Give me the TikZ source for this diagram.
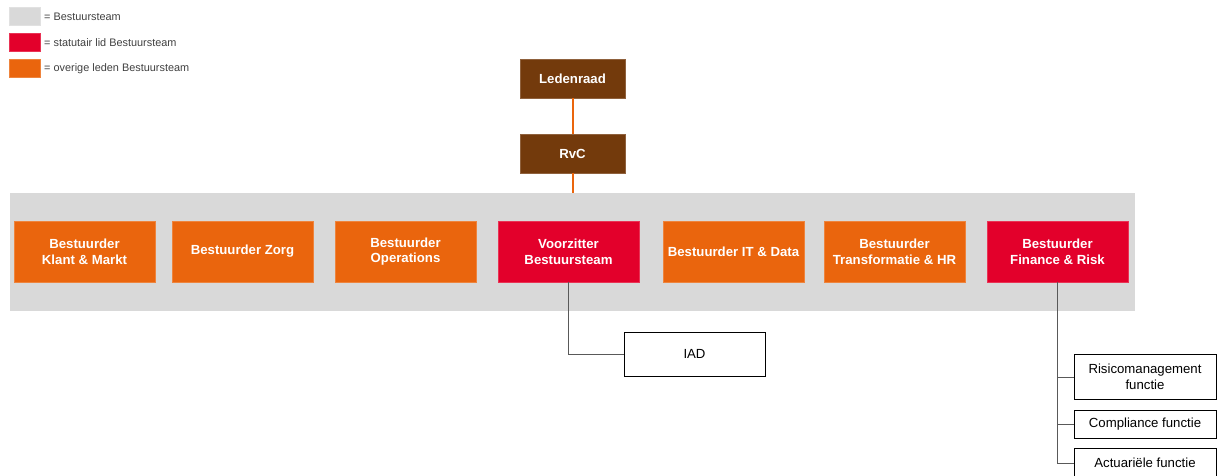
\documentclass[tikz,border=0pt]{standalone}
\usepackage{fontspec}
\setmainfont{Liberation Sans}
\definecolor{nnorange}{HTML}{EA650D}
\definecolor{nnred}{HTML}{E3002B}
\definecolor{nnbrown}{HTML}{733A0C}
\definecolor{nngray}{HTML}{D9D9D9}
\definecolor{nnline}{HTML}{595959}
\definecolor{nntext}{HTML}{404040}
\tikzset{
	teambox/.style={fill=#1, draw=#1!80!white, line width=0.5pt, text=white, minimum width=141pt, minimum height=61pt,
		inner sep=0pt, align=center, font=\fontsize{13.2}{15.8}\selectfont\bfseries},
	topbox/.style={teambox=nnbrown, minimum width=105pt, minimum height=39pt},
	funcbox/.style={draw=black, line width=0.9pt, fill=white, minimum width=142pt, inner sep=0pt, align=center,
		font=\fontsize{13.2}{15.8}\selectfont},
	legbox/.style={fill=#1, draw=#1!80!white, line width=0.5pt, minimum width=31pt, minimum height=18pt, inner sep=0pt},
	legtext/.style={anchor=west, inner sep=0pt, text=nntext, font=\fontsize{10.9}{12}\selectfont},
	link/.style={draw=nnline, line width=0.8pt}
}
\begin{document}
\begin{tikzpicture}[x=1pt, y=-1pt]
		\useasboundingbox (0,0) rectangle (1217,476);
		% legenda
		\node [legbox=nngray] (leg1) at (24.5,16) {};
		\node [legbox=nnred] (leg2) at (24.5,42) {};
		\node [legbox=nnorange] (leg3) at (24.5,68) {};
		\node [legtext] (legt1) at (44,16.5) {= Bestuursteam};
		\node [legtext] (legt2) at (44,42.5) {= statutair lid Bestuursteam};
		\node [legtext] (legt3) at (44,68.5) {= overige leden Bestuursteam};
		% bestuursteam
		\node [fill=nngray, minimum width=1125pt, minimum height=118pt, inner sep=0pt] (team) at (572.5,252) {};
		\node [topbox] (leden) at (572.5,78.5) {Ledenraad};
		\node [topbox] (rvc) at (572.5,153.5) {RvC};
		\draw [nnorange, line width=2pt] (leden) -- (rvc);
		\draw [nnorange, line width=2pt] (rvc) -- (rvc.south |- team.north);
		\node [teambox=nnorange] (klant) at (84.5,251.5) {Bestuurder\\Klant \& Markt};
		\node [teambox=nnorange] (zorg) at (242.5,251.5) {Bestuurder Zorg};
		\node [teambox=nnorange] (ops) at (405.5,251.5) {Bestuurder\\Operations};
		\node [teambox=nnred] (voorz) at (568.5,251.5) {Voorzitter\\Bestuursteam};
		\node [teambox=nnorange] (itdata) at (733.5,251.5) {Bestuurder IT \& Data};
		\node [teambox=nnorange] (trans) at (894.5,251.5) {Bestuurder\\Transformatie \& HR};
		\node [teambox=nnred] (fin) at (1057.5,251.5) {Bestuurder\\Finance \& Risk};
		% functies
		\node [funcbox, minimum width=141pt, minimum height=44pt] (iad) at (694.5,354) {IAD};
		\node [funcbox, minimum height=45pt] (risk) at (1145,377) {Risicomanagement\\functie};
		\node [funcbox, minimum height=28pt] (comp) at (1145,424) {Compliance functie};
		\node [funcbox, minimum height=30pt] (act) at (1145,463) {Actuariële functie};
		\draw [link] (voorz.south) |- (iad.west);
		\draw [link] (fin.south) -- (fin.south |- act.west) -- (act.west);
		\draw [link] (fin.south |- risk.west) -- (risk.west);
		\draw [link] (fin.south |- comp.west) -- (comp.west);
\end{tikzpicture}
\end{document}
